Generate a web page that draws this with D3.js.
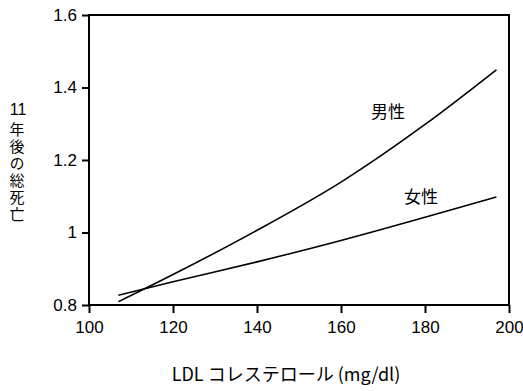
<!DOCTYPE html>
<html>
<head>
<meta charset="utf-8">
<script src="https://cdn.jsdelivr.net/npm/d3@7"></script>
<style>
body { margin: 0; background: #fff; }
svg { display: block; }
.jp { font-family: "Noto Sans CJK JP", sans-serif; }
</style>
</head>
<body>
<svg width="523" height="391"></svg>
<script>
// LDL values
var ldl = [107, 120, 140, 160, 180, 197]
var male = [0.809, 0.884, 1.006, 1.139, 1.298, 1.449]
var female = [0.827, 0.864, 0.919, 0.978, 1.042, 1.098]
var xTicks = [100, 120, 140, 160, 180, 200]
var yTicks = [0.8, 1, 1.2, 1.4, 1.6]
var yNum = "11"
var yWords = "年後の総死亡"

var svg = d3.select("svg")
var plotL = 89, plotR = 509, plotT = 15, plotB = 305

var x = d3.scaleLinear().domain([100, 200]).range([plotL, plotR])
var y = d3.scaleLinear().domain([0.8, 1.6]).range([plotB, plotT])

// frame
svg.append("rect")
    .attr("x", plotL).attr("y", plotT)
    .attr("width", plotR - plotL).attr("height", plotB - plotT)
    .attr("fill", "none").attr("stroke", "#000").attr("stroke-width", 2)

svg.append("g")
    .attr("transform", "translate(0," + plotB + ")")
    .call(d3.axisBottom(x).tickValues(xTicks).tickSize(8).tickPadding(8).tickFormat(d3.format("d")))
svg.append("g")
    .attr("transform", "translate(" + plotL + ",0)")
    .call(d3.axisLeft(y).tickValues(yTicks).tickSize(7).tickPadding(5).tickFormat(function (d) { return d === 1 ? "1" : d3.format(".1f")(d) }))

svg.selectAll(".domain").remove()
svg.selectAll(".tick line").attr("stroke", "#000").attr("stroke-width", 2)
svg.selectAll(".tick text")
    .attr("font-family", "Liberation Sans, Arial, sans-serif")
    .attr("font-size", 17)
    .attr("fill", "#000")

var line = d3.line()
    .x(function (d, i) { return x(ldl[i]) })
    .y(function (d) { return y(d) })
    .curve(d3.curveMonotoneX)

svg.append("path").attr("d", line(male))
    .attr("fill", "none").attr("stroke", "#000").attr("stroke-width", 1.6)
svg.append("path").attr("d", line(female))
    .attr("fill", "none").attr("stroke", "#000").attr("stroke-width", 1.6)

// series labels
svg.append("text").attr("class", "jp")
    .attr("x", 388).attr("y", 118).attr("text-anchor", "middle")
    .attr("font-size", 17).text("男性")
svg.append("text").attr("class", "jp")
    .attr("x", 421).attr("y", 203).attr("text-anchor", "middle")
    .attr("font-size", 17).text("女性")

// y title: "11" upright, then the words set vertically
svg.append("text")
    .attr("x", 18).attr("y", 115)
    .attr("text-anchor", "middle")
    .attr("font-family", "Liberation Sans, Arial, sans-serif")
    .attr("font-size", 16)
    .text(yNum)
svg.append("text").attr("class", "jp")
    .attr("x", 17).attr("y", 122)
    .style("writing-mode", "vertical-rl")
    .style("letter-spacing", "2px")
    .attr("font-size", 15)
    .text(yWords)

// x title
svg.append("text").attr("class", "jp")
    .attr("x", 286).attr("y", 381).attr("text-anchor", "middle")
    .attr("font-size", 18).text("LDL コレステロール (mg/dl)")
</script>
</body>
</html>
